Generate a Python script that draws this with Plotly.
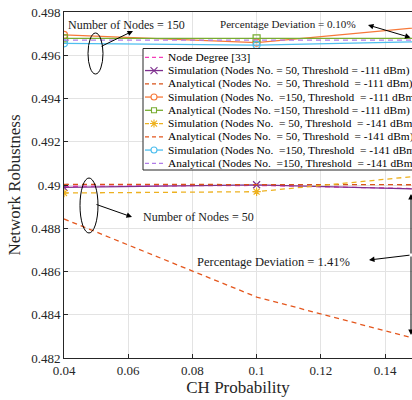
import plotly.graph_objects as go

# ---------------- data ----------------
ch_prob = [0.04, 0.1, 0.16]
node_degree = [0.48994, 0.48998, 0.48980]
sim_n50_111 = [0.48989, 0.49001, 0.48978]
ana_n50_111 = [0.49003, 0.49002, 0.49001]
sim_n150_111 = [0.49694, 0.49658, 0.49742]
ana_n150_111 = [0.49678, 0.49678, 0.49678]
sim_n50_141 = [0.48963, 0.48969, 0.49055]
ana_n50_141 = [0.48843, 0.48482, 0.48248]
sim_n150_141 = [0.49655, 0.49647, 0.49665]
ana_n150_141 = [0.49670, 0.49670, 0.49670]

series_names = [
    "Node Degree [33]",
    "Simulation (Nodes No. = 50, Threshold = -111 dBm)",
    "Analytical (Nodes No.  = 50, Threshold  = -111 dBm)",
    "Simulation (Nodes No.  =150, Threshold  = -111 dBm)",
    "Analytical (Nodes No. =150, Threshold = -111 dBm)",
    "Simulation (Nodes No.  = 50, Threshold  = -141 dBm)",
    "Analytical (Nodes No.  = 50, Threshold  = -141 dBm)",
    "Simulation (Nodes No.  =150, Threshold  = -141 dBm",
    "Analytical (Nodes No.  =150, Threshold  = -141 dBm)",
]
x_ticks = [0.04, 0.06, 0.08, 0.1, 0.12, 0.14]
y_ticks = [0.482, 0.484, 0.486, 0.488, 0.49, 0.492, 0.494, 0.496, 0.498]

# ---------------- styles ----------------
W, H = 412, 400
ML, MR, MT, MB = 64, 0, 12, 42
PW, PH = W - ML - MR, H - MT - MB
X0, X1 = 0.04, 0.04 + PW / 3210.0
Y0, Y1 = 0.482, 0.498
FONT = "Liberation Serif, Times New Roman, serif"
DASH = "5px,4px"

series = [
    (node_degree, "#F53DB8", DASH, None),
    (sim_n50_111, "#7E2F8E", "solid", "x-thin-open"),
    (ana_n50_111, "#D95319", DASH, None),
    (sim_n150_111, "#F7793A", "solid", "circle-open"),
    (ana_n150_111, "#77AC30", "solid", "square-open"),
    (sim_n50_141, "#EDB120", DASH, "asterisk-open"),
    (ana_n50_141, "#E4571E", DASH, None),
    (sim_n150_141, "#4DBEEE", "solid", "circle-open"),
    (ana_n150_141, "#B07CE8", DASH, None),
]


def px(xp):
    return (xp - ML) / PW


def py(yp):
    return (H - MB - yp) / PH


def dx(xp):
    return X0 + (xp - ML) / PW * (X1 - X0)


def dy(yp):
    return Y1 - (yp - MT) / PH * (Y1 - Y0)


fig = go.Figure()
for (vals, col, dash, sym), name in zip(series, series_names):
    mode = "lines+markers" if sym else "lines"
    kw = {}
    if sym:
        kw["marker"] = dict(symbol=sym, size=7, color=col, line=dict(color=col, width=1.2))
    fig.add_trace(go.Scatter(x=ch_prob, y=vals, mode=mode, name=name,
                             line=dict(color=col, width=1.3, dash=dash),
                             showlegend=False, **kw))

shapes = []
annotations = []

# ---------- manual legend (compact rows like the original) ----------
shapes.append(dict(type="rect", xref="paper", yref="paper",
                   x0=px(143), x1=px(430), y0=py(170), y1=py(48.5),
                   fillcolor="white", line=dict(color="#262626", width=1), layer="above"))
for i, ((vals, col, dash, sym), name) in enumerate(zip(series, series_names)):
    yp = 57.3 + 13.25 * i
    shapes.append(dict(type="line", xref="paper", yref="paper",
                       x0=px(145), x1=px(163), y0=py(yp), y1=py(yp),
                       line=dict(color=col, width=1.3,
                                 dash="4px,3px" if dash != "solid" else "solid"),
                       layer="above"))
    xa, ya = px(154), py(yp)
    base = dict(xref="paper", yref="paper", xsizemode="pixel", ysizemode="pixel",
                xanchor=xa, yanchor=ya, line=dict(color=col, width=1.1), layer="above")
    if sym == "circle-open":
        shapes.append(dict(type="circle", x0=-3, x1=3, y0=-3, y1=3, fillcolor="white", **base))
    elif sym == "square-open":
        shapes.append(dict(type="rect", x0=-2.5, x1=2.5, y0=-2.5, y1=2.5, fillcolor="white", **base))
    elif sym == "x-thin-open":
        shapes.append(dict(type="path", path="M-3.5,-3.5L3.5,3.5M-3.5,3.5L3.5,-3.5", **base))
    elif sym == "asterisk-open":
        shapes.append(dict(type="path",
                           path="M-4,0L4,0M0,-4L0,4M-3,-3L3,3M-3,3L3,-3", **base))
    annotations.append(dict(xref="paper", yref="paper", x=px(166), y=py(yp),
                            xanchor="left", yanchor="middle", showarrow=False,
                            text=name, font=dict(family=FONT, size=11.4, color="black")))

# ---------- ellipses ----------
shapes.append(dict(type="circle", xref="x", yref="y", x0=dx(88), x1=dx(103),
                   y0=dy(74), y1=dy(33), line=dict(color="black", width=1)))
shapes.append(dict(type="circle", xref="x", yref="y", x0=dx(80), x1=dx(98),
                   y0=dy(233), y1=dy(178), line=dict(color="black", width=1)))

# ---------- text annotations ----------
def txt(text, xp, yp, size):
    annotations.append(dict(xref="x", yref="y", x=dx(xp), y=dy(yp), text=text,
                            showarrow=False, xanchor="center", yanchor="middle",
                            font=dict(family=FONT, size=size, color="#1a1a1a")))


txt("Number of Nodes = 150", 126.5, 25, 12)
txt("Number of Nodes = 50", 198.5, 216.5, 12)
txt("Percentage Deviation = 0.10%", 287.5, 23.5, 11.1)
txt("Percentage Deviation = 1.41%", 273.5, 262, 12.5)


def arrow(x_tail, y_tail, x_head, y_head, both=False):
    annotations.append(dict(xref="x", yref="y", axref="x", ayref="y",
                            x=dx(x_head), y=dy(y_head), ax=dx(x_tail), ay=dy(y_tail),
                            text="", showarrow=True, arrowhead=2, arrowsize=1.1,
                            arrowwidth=1, arrowcolor="black",
                            arrowside="end+start" if both else "end"))


arrow(100, 47, 133, 31)
arrow(95, 204, 132, 217)
arrow(412, 38, 368, 25, both=True)
arrow(411, 255, 369, 260)
arrow(411, 255, 411, 194)
arrow(411, 255, 411, 335)

fig.update_layout(
    width=W, height=H,
    margin=dict(l=ML, r=MR, t=MT, b=MB, autoexpand=False),
    paper_bgcolor="white", plot_bgcolor="white",
    font=dict(family=FONT, color="#262626"),
    showlegend=False,
    shapes=shapes, annotations=annotations,
)
fig.update_xaxes(range=[X0, X1], tickvals=x_ticks, ticktext=[f"{v:g}" for v in x_ticks],
                 showgrid=True, gridcolor="#E3E3E3", gridwidth=1,
                 showline=True, linecolor="#262626", linewidth=1, mirror=True,
                 ticks="inside", ticklen=4, tickcolor="#262626",
                 tickfont=dict(family=FONT, size=13, color="#262626"),
                 title=dict(text="CH Probability", font=dict(family=FONT, size=17, color="#262626"),
                            standoff=2),
                 automargin=False, zeroline=False)
fig.update_yaxes(range=[Y0, Y1], tickvals=y_ticks, ticktext=[f"{v:g}" for v in y_ticks],
                 showgrid=True, gridcolor="#E3E3E3", gridwidth=1,
                 showline=True, linecolor="#262626", linewidth=1,
                 ticks="inside", ticklen=4, tickcolor="#262626",
                 tickfont=dict(family=FONT, size=13, color="#262626"),
                 title=dict(text="Network Robustness", font=dict(family=FONT, size=17, color="#262626"),
                            standoff=6),
                 automargin=False, zeroline=False)

fig.write_html("out.html", config={"displayModeBar": False},
               post_script="document.body.style.margin='0';document.body.style.overflow='hidden';")
